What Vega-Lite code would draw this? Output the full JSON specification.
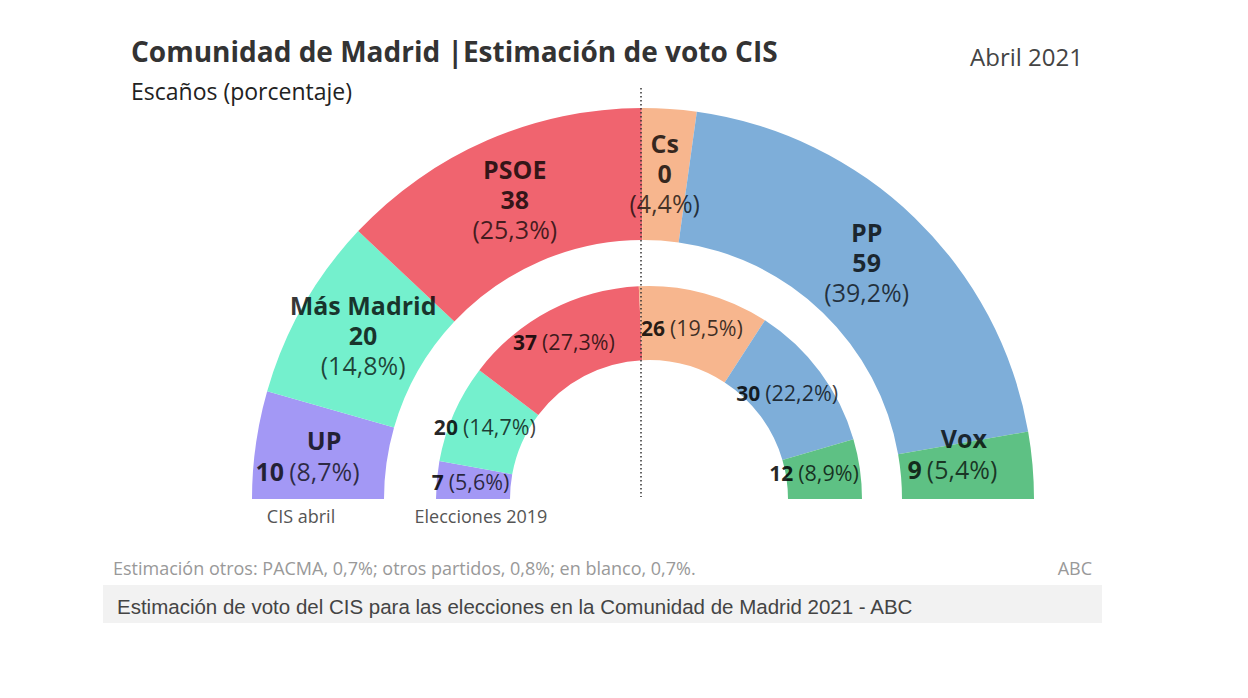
{
  "$schema": "https://vega.github.io/schema/vega-lite/v6.json",
  "width": 1248,
  "height": 698,
  "autosize": {"type": "none"},
  "padding": 0,
  "background": "white",
  "config": {"view": {"stroke": null}, "text": {"font": "Open Sans"}},
  "datasets": {
    "cis": [
      {"party": "UP", "seats": 10, "pct": 8.7, "pctText": "(8,7%)", "order": 1},
      {"party": "Más Madrid", "seats": 20, "pct": 14.8, "pctText": "(14,8%)", "order": 2},
      {"party": "PSOE", "seats": 38, "pct": 25.3, "pctText": "(25,3%)", "order": 3},
      {"party": "Cs", "seats": 0, "pct": 4.4, "pctText": "(4,4%)", "order": 4},
      {"party": "PP", "seats": 59, "pct": 39.2, "pctText": "(39,2%)", "order": 5},
      {"party": "Vox", "seats": 9, "pct": 5.4, "pctText": "(5,4%)", "order": 6}
    ],
    "e2019": [
      {"party": "UP", "seats": 7, "pct": 5.6, "pctText": "(5,6%)", "order": 1},
      {"party": "Más Madrid", "seats": 20, "pct": 14.7, "pctText": "(14,7%)", "order": 2},
      {"party": "PSOE", "seats": 37, "pct": 27.3, "pctText": "(27,3%)", "order": 3},
      {"party": "Cs", "seats": 26, "pct": 19.5, "pctText": "(19,5%)", "order": 4},
      {"party": "PP", "seats": 30, "pct": 22.2, "pctText": "(22,2%)", "order": 5},
      {"party": "Vox", "seats": 12, "pct": 8.9, "pctText": "(8,9%)", "order": 6}
    ]
  },
  "layer": [
    {
      "data": {"values": [{}]},
      "mark": {"type": "rect", "x": 103, "x2": 1102, "y": 585, "y2": 623, "fill": "#f2f2f2"},
      "encoding": {}
    },
    {
      "data": {"name": "cis"},
      "encoding": {
        "theta": {"field": "pct", "type": "quantitative", "stack": true, "scale": {"range": [-1.5707963, 1.5707963]}},
        "order": {"field": "order", "type": "quantitative"}
      },
      "layer": [
        {
          "mark": {"type": "arc", "x": 643, "y": 499, "outerRadius": 391, "innerRadius": 259},
          "encoding": {
            "color": {"field": "party", "type": "nominal", "legend": null,
              "scale": {"domain": ["UP", "Más Madrid", "PSOE", "Cs", "PP", "Vox"],
                        "range": ["#a398f5", "#74f0cd", "#f0646f", "#f7b68e", "#7eaed9", "#5ec184"]}}
          }
        },
        {
          "mark": {"type": "text", "x": 643, "y": 499, "radius": 322, "dy": -25, "baseline": "alphabetic", "align": "center", "fontSize": 25, "fontWeight": "bold", "fill": "#000", "fillOpacity": 0.78},
          "encoding": {"text": {"condition": {"test": "indexof(['Más Madrid','PSOE','Cs','PP'], datum.party) >= 0", "field": "party", "type": "nominal"}, "value": ""}}
        },
        {
          "mark": {"type": "text", "x": 643, "y": 499, "radius": 322, "dy": 5, "baseline": "alphabetic", "align": "center", "fontSize": 25, "fontWeight": "bold", "fill": "#000", "fillOpacity": 0.78},
          "encoding": {"text": {"condition": {"test": "indexof(['Más Madrid','PSOE','Cs','PP'], datum.party) >= 0", "field": "seats", "type": "nominal"}, "value": ""}}
        },
        {
          "mark": {"type": "text", "x": 643, "y": 499, "radius": 322, "dy": 35, "baseline": "alphabetic", "align": "center", "fontSize": 25, "fill": "#000", "fillOpacity": 0.72},
          "encoding": {"text": {"condition": {"test": "indexof(['Más Madrid','PSOE','Cs','PP'], datum.party) >= 0", "field": "pctText", "type": "nominal"}, "value": ""}}
        },
        {
          "mark": {"type": "text", "x": 643, "y": 499, "radius": 322, "dy": -4, "baseline": "alphabetic", "align": "center", "fontSize": 25, "fontWeight": "bold", "fill": "#000", "fillOpacity": 0.78},
          "encoding": {"text": {"condition": {"test": "datum.party === 'UP'", "field": "party", "type": "nominal"}, "value": ""}}
        },
        {
          "mark": {"type": "text", "x": 643, "y": 499, "radius": 322, "dy": 27, "dx": -40, "baseline": "alphabetic", "align": "right", "fontSize": 25, "fontWeight": "bold", "fill": "#000", "fillOpacity": 0.78},
          "encoding": {"text": {"condition": {"test": "datum.party === 'UP'", "field": "seats", "type": "nominal"}, "value": ""}}
        },
        {
          "mark": {"type": "text", "x": 643, "y": 499, "radius": 322, "dy": 27, "dx": -35, "baseline": "alphabetic", "align": "left", "fontSize": 25, "fill": "#000", "fillOpacity": 0.72},
          "encoding": {"text": {"condition": {"test": "datum.party === 'UP'", "field": "pctText", "type": "nominal"}, "value": ""}}
        },
        {
          "mark": {"type": "text", "x": 643, "y": 499, "radius": 322, "dy": -23, "baseline": "alphabetic", "align": "center", "fontSize": 25, "fontWeight": "bold", "fill": "#000", "fillOpacity": 0.78},
          "encoding": {"text": {"condition": {"test": "datum.party === 'Vox'", "field": "party", "type": "nominal"}, "value": ""}}
        },
        {
          "mark": {"type": "text", "x": 643, "y": 499, "radius": 322, "dy": 8, "dx": -42, "baseline": "alphabetic", "align": "right", "fontSize": 25, "fontWeight": "bold", "fill": "#000", "fillOpacity": 0.78},
          "encoding": {"text": {"condition": {"test": "datum.party === 'Vox'", "field": "seats", "type": "nominal"}, "value": ""}}
        },
        {
          "mark": {"type": "text", "x": 643, "y": 499, "radius": 322, "dy": 8, "dx": -37, "baseline": "alphabetic", "align": "left", "fontSize": 25, "fill": "#000", "fillOpacity": 0.72},
          "encoding": {"text": {"condition": {"test": "datum.party === 'Vox'", "field": "pctText", "type": "nominal"}, "value": ""}}
        }
      ]
    },
    {
      "data": {"name": "e2019"},
      "encoding": {
        "theta": {"field": "pct", "type": "quantitative", "stack": true, "scale": {"range": [-1.5707963, 1.5707963]}},
        "order": {"field": "order", "type": "quantitative"}
      },
      "layer": [
        {
          "mark": {"type": "arc", "x": 649, "y": 499, "outerRadius": 213, "innerRadius": 139},
          "encoding": {
            "color": {"field": "party", "type": "nominal", "legend": null,
              "scale": {"domain": ["UP", "Más Madrid", "PSOE", "Cs", "PP", "Vox"],
                        "range": ["#a398f5", "#74f0cd", "#f0646f", "#f7b68e", "#7eaed9", "#5ec184"]}}
          }
        },
        {
          "mark": {"type": "text", "x": 649, "y": 499, "radius": 176, "dy": 7, "dx": -30, "baseline": "alphabetic", "align": "right", "fontSize": 21, "fontWeight": "bold", "fill": "#000", "fillOpacity": 0.85},
          "encoding": {"text": {"field": "seats", "type": "nominal"}}
        },
        {
          "mark": {"type": "text", "x": 649, "y": 499, "radius": 176, "dy": 7, "dx": -25, "baseline": "alphabetic", "align": "left", "fontSize": 21.5, "fill": "#000", "fillOpacity": 0.75},
          "encoding": {"text": {"field": "pctText", "type": "nominal"}}
        }
      ]
    },
    {
      "data": {"values": [{}]},
      "mark": {"type": "rule", "stroke": "#333", "strokeWidth": 1.5, "strokeDash": [1.5, 2.5]},
      "encoding": {"x": {"value": 641}, "y": {"value": 88}, "y2": {"value": 497}}
    },
    {
      "data": {"values": [{"label": "Comunidad de Madrid |Estimación de voto CIS"}]},
      "mark": {"type": "text", "x": 131, "y": 62, "align": "left", "baseline": "alphabetic", "fontSize": 28, "fontWeight": "bold", "fill": "#333"},
      "encoding": {"text": {"field": "label", "type": "nominal"}}
    },
    {
      "data": {"values": [{"label": "Escaños (porcentaje)"}]},
      "mark": {"type": "text", "x": 131, "y": 100, "align": "left", "baseline": "alphabetic", "fontSize": 23, "fill": "#222"},
      "encoding": {"text": {"field": "label", "type": "nominal"}}
    },
    {
      "data": {"values": [{"label": "Abril 2021"}]},
      "mark": {"type": "text", "x": 1083, "y": 66, "align": "right", "baseline": "alphabetic", "fontSize": 24, "fill": "#444"},
      "encoding": {"text": {"field": "label", "type": "nominal"}}
    },
    {
      "data": {"values": [{"label": "CIS abril"}]},
      "mark": {"type": "text", "x": 301, "y": 523, "align": "center", "baseline": "alphabetic", "fontSize": 18, "fill": "#555"},
      "encoding": {"text": {"field": "label", "type": "nominal"}}
    },
    {
      "data": {"values": [{"label": "Elecciones 2019"}]},
      "mark": {"type": "text", "x": 481, "y": 523, "align": "center", "baseline": "alphabetic", "fontSize": 18, "fill": "#555"},
      "encoding": {"text": {"field": "label", "type": "nominal"}}
    },
    {
      "data": {"values": [{"label": "Estimación otros: PACMA, 0,7%; otros partidos, 0,8%; en blanco, 0,7%."}]},
      "mark": {"type": "text", "x": 113, "y": 575, "align": "left", "baseline": "alphabetic", "fontSize": 18, "fill": "#999"},
      "encoding": {"text": {"field": "label", "type": "nominal"}}
    },
    {
      "data": {"values": [{"label": "ABC"}]},
      "mark": {"type": "text", "x": 1092, "y": 575, "align": "right", "baseline": "alphabetic", "fontSize": 18, "fill": "#999"},
      "encoding": {"text": {"field": "label", "type": "nominal"}}
    },
    {
      "data": {"values": [{"label": "Estimación de voto del CIS para las elecciones en la Comunidad de Madrid 2021 - ABC"}]},
      "mark": {"type": "text", "x": 117, "y": 614, "align": "left", "baseline": "alphabetic", "font": "Liberation Sans", "fontSize": 20.5, "fill": "#444"},
      "encoding": {"text": {"field": "label", "type": "nominal"}}
    }
  ],
  "resolve": {"scale": {"theta": "independent"}}
}
